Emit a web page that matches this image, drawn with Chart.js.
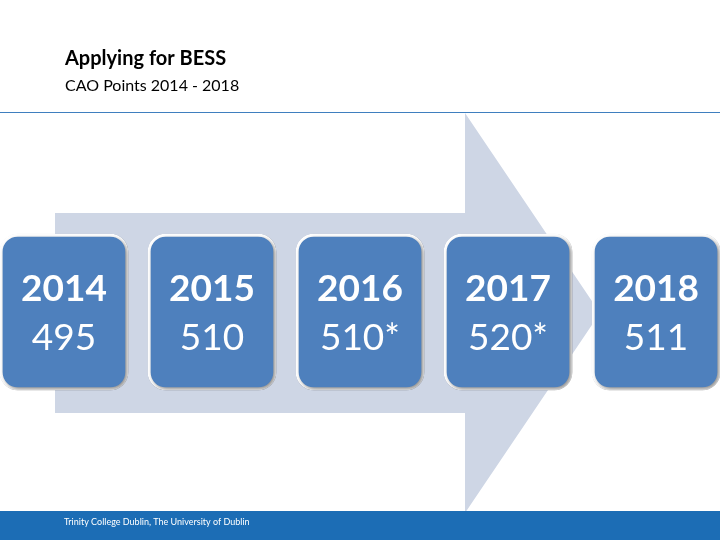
<!DOCTYPE html>
<html>
<head>
<meta charset="utf-8">
<script src="https://cdn.jsdelivr.net/npm/chart.js@4"></script>
<style>
  html, body { margin: 0; padding: 0; background: #fff; }
  #wrap { width: 720px; height: 540px; position: relative; }
</style>
</head>
<body>
<div id="wrap"><canvas id="slide"></canvas></div>
<script>
// data
const years = ['2014', '2015', '2016', '2017', '2018'];
const points = ['495', '510', '510*', '520*', '511'];
const titleText = 'Applying for BESS';
const subtitleText = 'CAO Points 2014 - 2018';
const footerText = 'Trinity College Dublin, The University of Dublin';

// slide decorations: header, rule, arrow, footer
const slideBackground = {
  id: 'slideBackground',
  beforeDatasetsDraw(chart) {
    const c = chart.ctx;
    c.save();
    c.fillStyle = '#ced6e5';
    c.beginPath();
    c.moveTo(55, 213); c.lineTo(465, 213); c.lineTo(465, 113);
    c.lineTo(600, 313);
    c.lineTo(465, 513); c.lineTo(465, 413); c.lineTo(55, 413);
    c.closePath(); c.fill();

    c.fillStyle = '#000';
    c.textBaseline = 'alphabetic';
    c.font = 'bold 20px Lato, "Open Sans", sans-serif';
    c.fillText(titleText, 65, 65);
    c.font = '16px Lato, "Open Sans", sans-serif';
    c.fillText(subtitleText, 65, 91);

    c.strokeStyle = '#3f7fbf';
    c.lineWidth = 1.2;
    c.beginPath(); c.moveTo(0, 112.5); c.lineTo(720, 112.5); c.stroke();

    c.fillStyle = '#1c6db5';
    c.fillRect(0, 511, 720, 29);
    c.fillStyle = '#fff';
    c.font = '9px Lato, "Open Sans", sans-serif';
    c.fillText(footerText, 64, 525);

    // shadow for the boxes
    c.shadowColor = 'rgba(0,0,0,0.45)';
    c.shadowBlur = 4;
    c.shadowOffsetX = 2;
    c.shadowOffsetY = 2;
  },
  afterDatasetsDraw(chart) {
    const c = chart.ctx;
    c.restore();
    c.save();
    const meta = chart.getDatasetMeta(0);
    c.fillStyle = '#fff';
    c.textAlign = 'center';
    c.textBaseline = 'middle';
    meta.data.forEach((bar, i) => {
      c.font = 'bold 37px Lato, "Open Sans", sans-serif';
      c.fillText(years[i], bar.x, 289);
      c.font = '37px Lato, "Open Sans", sans-serif';
      c.fillText(points[i], bar.x, 338);
    });
    c.restore();
  }
};

new Chart(document.getElementById('slide'), {
  type: 'bar',
  data: {
    datasets: [{
      data: years.map((y, i) => ({ x: i, y: [150, 306] })),
      backgroundColor: '#4e80bd',
      borderColor: '#ffffff',
      borderWidth: 3,
      borderSkipped: false,
      borderRadius: 18,
      barThickness: 128
    }]
  },
  options: {
    responsive: true,
    maintainAspectRatio: false,
    animation: false,
    layout: { padding: 0 },
    plugins: { legend: { display: false }, tooltip: { enabled: false } },
    scales: {
      x: { type: 'linear', offset: false, min: -0.432, max: 4.432, display: false },
      y: { min: 0, max: 540, display: false }
    }
  },
  plugins: [slideBackground]
});
</script>
</body>
</html>
